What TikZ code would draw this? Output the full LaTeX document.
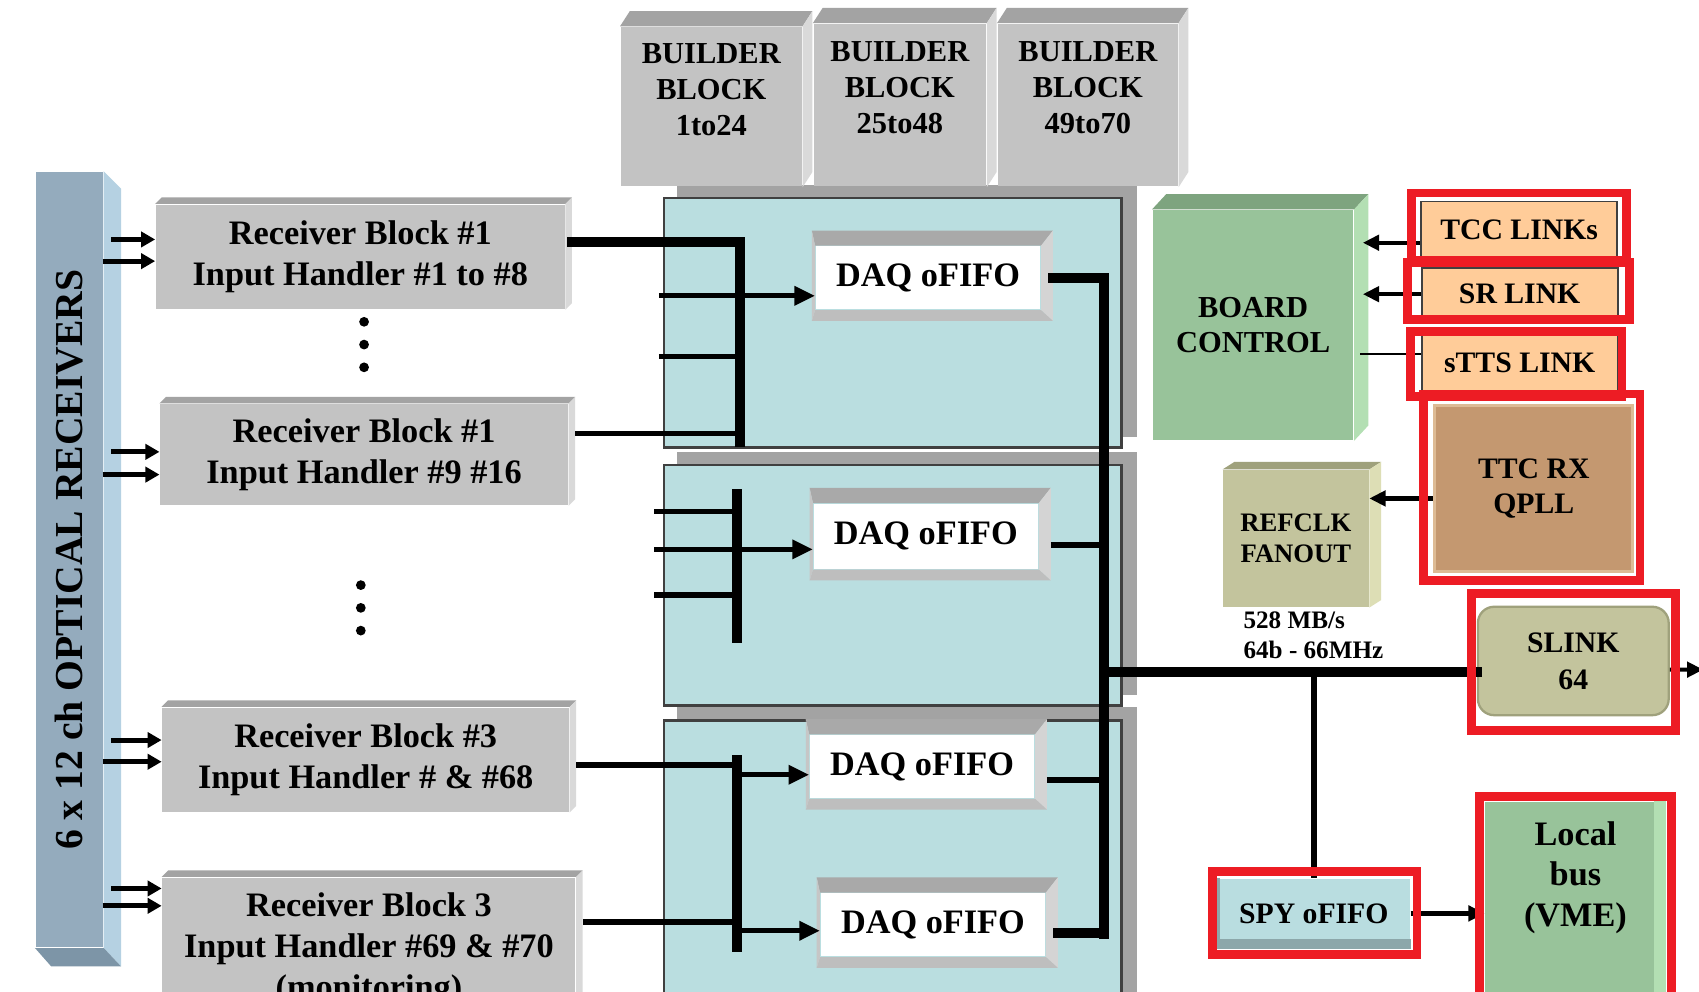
\documentclass[tikz,border=0pt]{standalone}
\usepackage{fontspec}
\setmainfont{Liberation Serif}
\usetikzlibrary{arrows.meta,backgrounds}
\definecolor{RxGray}{HTML}{C3C3C3}
\definecolor{RxTop}{HTML}{A3A3A3}
\definecolor{RxSide}{HTML}{D9D9D9}
\definecolor{OptFront}{HTML}{94ABBD}
\definecolor{OptSide}{HTML}{B5D1E2}
\definecolor{OptBottom}{HTML}{7D95A7}
\definecolor{PanelTeal}{HTML}{BADEE0}
\definecolor{PanelShade}{HTML}{A3A3A3}
\definecolor{BevTop}{HTML}{A9A9A9}
\definecolor{BevSide}{HTML}{D4D4D4}
\definecolor{BevBottom}{HTML}{BEBEBE}
\definecolor{BevLeft}{HTML}{C6C6C6}
\definecolor{CtrlGreen}{HTML}{98C39A}
\definecolor{CtrlTop}{HTML}{7EA47F}
\definecolor{CtrlSide}{HTML}{B3DFB3}
\definecolor{LinkPeach}{HTML}{FFCC99}
\definecolor{TtcTan}{HTML}{C49870}
\definecolor{TtcEdge}{HTML}{DDBB95}
\definecolor{Olive}{HTML}{C3C49D}
\definecolor{OliveTop}{HTML}{9FA17C}
\definecolor{OliveSide}{HTML}{DDDEB5}
\definecolor{SpyTeal}{HTML}{B9DDE0}
\definecolor{SpyEdge}{HTML}{8CA7AA}
\definecolor{HiRed}{HTML}{ED1C24}

% top and right faces of a raised box
\newcommand{\boxfaces}[5]{%
  \fill[#4] (#1.north west) -- ++(#2,-#3) -- ([shift={(#2,-#3)}]#1.north east) -- (#1.north east) -- cycle;
  \fill[#5] (#1.north east) -- ([shift={(#2,-#3)}]#1.north east) -- ([shift={(#2,-#3)}]#1.south east) -- (#1.south east) -- cycle;
}
% bevel frame round a fifo
\newcommand{\fifobevel}[1]{%
  \fill[BevTop] ([shift={(-3,-14)}]#1.north west) -- ([shift={(11,-14)}]#1.north east) -- (#1.north east) -- (#1.north west) -- cycle;
  \fill[BevSide] (#1.north east) -- ([shift={(11,-14)}]#1.north east) -- ([shift={(11,10)}]#1.south east) -- (#1.south east) -- cycle;
  \fill[BevBottom] (#1.south west) -- (#1.south east) -- ([shift={(11,10)}]#1.south east) -- ([shift={(-3,10)}]#1.south west) -- cycle;
  \fill[BevLeft] (#1.north west) -- ([shift={(-3,-14)}]#1.north west) -- ([shift={(-3,10)}]#1.south west) -- (#1.south west) -- cycle;
}

\begin{document}
\begin{tikzpicture}[x=0.01cm, y=-0.01cm,
    rxblock/.style={fill=RxGray, inner sep=0pt, align=center, font=\fontsize{9}{10.7}\selectfont\bfseries},
    builder/.style={fill=RxGray, inner sep=0pt, minimum height=1.5cm},
    bbtext/.style={align=center, yshift=0.16cm, font=\fontsize{8}{9.4}\selectfont\bfseries},
    panel/.style={fill=PanelTeal, draw=black!75, line width=0.6pt, minimum width=4.22cm, inner sep=0pt},
    fifo/.style={fill=white, minimum width=2.07cm, minimum height=0.58cm, inner sep=0pt, font=\fontsize{9}{10.7}\selectfont\bfseries},
    smalltext/.style={align=center, inner sep=0pt, font=\fontsize{7.8}{9.4}\selectfont\bfseries},
    linkbox/.style={smalltext, fill=LinkPeach, draw=black!75, line width=0.5pt, minimum width=1.81cm},
    hilite/.style={draw=HiRed, line width=2.3pt},
    bus/.style={line width=2.6pt, line cap=rect},
    wire/.style={line width=1.4pt},
    feed/.style={line width=1.3pt, -{Triangle[length=0.13cm,width=0.14cm]}},
    tofifo/.style={line width=1.4pt, -{Triangle[length=0.19cm,width=0.17cm]}},
    toctrl/.style={line width=1.1pt, -{Triangle[length=0.15cm,width=0.14cm]}}]
  \useasboundingbox (0,0) rectangle (1568,915);
  \clip (0,0) rectangle (1568,915);

  % builder blocks
  \node[builder, minimum width=1.67cm, minimum height=1.47cm, label={[bbtext]center:BUILDER\\BLOCK\\1to24}] (bb1) at (656.5,98.5) {};
  \node[builder, minimum width=1.59cm, label={[bbtext]center:BUILDER\\BLOCK\\25to48}] (bb2) at (830.5,97) {};
  \node[builder, minimum width=1.66cm, label={[bbtext]center:BUILDER\\BLOCK\\49to70}] (bb3) at (1004,97) {};
  \foreach \b in {bb1,bb2,bb3} {\boxfaces{\b}{9}{14}{RxTop}{RxSide}}

  % optical receivers
  \node[fill=OptFront, rotate=90, minimum width=7.15cm, minimum height=0.62cm, inner sep=0pt, font=\fontsize{10.4}{12}\selectfont\bfseries] (optrx) at (64,516.5) {6 x 12 ch OPTICAL RECEIVERS};
  \fill[OptSide] (optrx.south east) -- ++(16,16) -- ([shift={(16,17)}]optrx.south west) -- (optrx.south west) -- cycle;
  \fill[OptBottom] (optrx.north west) -- (optrx.south west) -- ++(16,17) -- ([shift={(15,17)}]optrx.north west) -- cycle;

  % receiver blocks
  \node[rxblock, minimum width=3.77cm, minimum height=0.96cm] (RB1) at (332.5,237) {Receiver Block \#1\\Input Handler \#1 to \#8};
  \node[rxblock, minimum width=3.76cm, minimum height=0.93cm] (RB2) at (336,419.5) {Receiver Block \#1\\Input Handler \#9 \#16};
  \node[rxblock, minimum width=3.75cm, minimum height=0.96cm] (RB3) at (337.5,701) {Receiver Block \#3\\Input Handler \# \& \#68};
  \node[rxblock, minimum width=3.81cm, minimum height=1.32cm] (RB4) at (340.5,876) {Receiver Block 3\\Input Handler \#69 \& \#70\\(monitoring)};
  \foreach \r in {RB1,RB2,RB3,RB4} {\boxfaces{\r}{6}{6}{RxTop}{RxSide}}
  \foreach \y in {297,318,339} {\fill (336,\y) circle (0.045cm); \fill (333,\y+243) circle (0.045cm);}

  \foreach \r/\ya/\yb in {RB1/0.16/-0.04, RB2/0.025/-0.185, RB3/0.18/-0.02, RB4/0.56/0.40} {
    \draw[feed] ([xshift=0.07cm,yshift=\ya cm]optrx.south |- \r.west) -- ([yshift=\ya cm]\r.west);
    \draw[feed] ([xshift=-0.01cm,yshift=\yb cm]optrx.south |- \r.west) -- ([yshift=\yb cm]\r.west);
  }

  % DAQ panels
  \node[panel, minimum height=2.30cm] (panA) at (824,298) {};
  \node[panel, minimum height=2.22cm] (panB) at (824,540) {};
  \node[panel, minimum height=2.95cm] (panC) at (824,812.5) {};
  \begin{scope}[on background layer]
    \fill[white] (0,0) rectangle (1568,915);
    \foreach \p in {panA,panB,panC}
      \fill[PanelShade] ([shift={(13,-11)}]\p.south west) rectangle ([shift={(13,-11)}]\p.north east);
  \end{scope}

  \node[fifo] (DAQ1) at (856.5,256.5) {DAQ oFIFO};
  \node[fifo, minimum height=0.60cm] (DAQ2) at (854.5,495) {DAQ oFIFO};
  \node[fifo] (DAQ3) at (851,707.5) {DAQ oFIFO};
  \node[fifo] (DAQ4) at (861,853.5) {DAQ oFIFO};
  \foreach \f in {DAQ1,DAQ2,DAQ3,DAQ4} {\fifobevel{\f}}

  % input side of panel A
  \coordinate (aBot) at (683,408);
  \coordinate (aIn1) at (608,273);
  \coordinate (aIn2) at (608,329);
  \draw[bus, shorten <=0.06cm] ([yshift=0.14cm]RB1.east) -| (aBot);
  \draw[wire] (aIn1) -- (aIn1 -| aBot);
  \draw[wire] (aIn2) -- (aIn2 -| aBot);
  \draw[wire, shorten <=0.06cm] ([yshift=0.195cm]RB2.east) -- ([yshift=0.195cm]RB2.east -| aBot);
  \draw[tofifo] (aIn1 -| aBot) -- (aIn1 -| DAQ1.west);

  % input side of panel B
  \coordinate (bTop) at (680,456);
  \coordinate (bBot) at (680,589);
  \foreach \n/\y in {1/472,2/507,3/549} {\coordinate (bIn\n) at (604,\y);}
  \draw[bus] (bTop) -- (bBot);
  \foreach \n in {1,2,3} {\draw[wire] (bIn\n) -- (bIn\n -| bTop);}
  \draw[tofifo] (bIn2 -| bTop) -- (bIn2 -| DAQ2.west);

  % input side of panel C
  \coordinate (cTop) at (680,701);
  \coordinate (cBot) at (680,874);
  \draw[bus] (cTop) -- (cBot);
  \draw[wire, shorten <=0.06cm] ([yshift=-0.05cm]RB3.east) -- ([yshift=-0.05cm]RB3.east -| cTop);
  \draw[wire, shorten <=0.06cm] ([yshift=0.25cm]RB4.east) -- ([yshift=0.25cm]RB4.east -| cTop);
  \draw[tofifo] ([yshift=-0.075cm]DAQ3.west -| cTop) -- ([yshift=-0.075cm]DAQ3.west);
  \draw[tofifo] ([yshift=-0.055cm]DAQ4.west -| cTop) -- ([yshift=-0.055cm]DAQ4.west);

  % output bus
  \coordinate (rTop) at (1019,254);
  \coordinate (rBot) at (1019,862);
  \coordinate (rMid) at (1019,620);
  \draw[bus, shorten <=0.11cm] (DAQ1.east) -| (rBot);
  \draw[wire, shorten <=0.11cm] ([yshift=-0.08cm]DAQ2.east) -- ([yshift=-0.08cm]DAQ2.east -| rTop);
  \draw[wire, shorten <=0.11cm] ([yshift=-0.125cm]DAQ3.east) -- ([yshift=-0.125cm]DAQ3.east -| rTop);
  \draw[bus, shorten <=0.11cm] ([yshift=-0.075cm]DAQ4.east) -- ([yshift=-0.075cm]DAQ4.east -| rTop);

  % control side
  \node[smalltext, fill=CtrlGreen, minimum width=1.85cm, minimum height=2.12cm, font=\fontsize{8}{9.4}\selectfont\bfseries] (BC) at (1156.5,300) {BOARD\\CONTROL};
  \boxfaces{BC}{13}{14}{CtrlTop}{CtrlSide}
  \node[linkbox, minimum height=0.52cm] (TCC) at (1402,212) {TCC LINKs};
  \node[linkbox, minimum height=0.49cm] (SR) at (1402.5,271.5) {SR LINK};
  \node[linkbox, minimum height=0.55cm] (STTS) at (1402.5,334.5) {sTTS LINK};
  \node[smalltext, fill=TtcTan, draw=TtcEdge, line width=0.8pt, minimum width=1.83cm, minimum height=1.53cm, font=\fontsize{7.8}{9.1}\selectfont\bfseries] (TTC) at (1415.5,451) {TTC RX\\QPLL};
  \node[smalltext, fill=Olive, minimum width=1.34cm, minimum height=1.26cm, font=\fontsize{7}{8}\selectfont\bfseries] (REF) at (1196,497) {REFCLK\\FANOUT};
  \boxfaces{REF}{11}{7}{OliveTop}{OliveSide}
  \node[align=left, anchor=west, inner sep=0pt, font=\fontsize{6.6}{7.9}\selectfont\bfseries] (rate) at (1147,586) {528 MB/s\\64b - 66MHz};
  \node[smalltext, fill=Olive, draw=OliveTop, line width=0.6pt, rounded corners=0.15cm, minimum width=1.76cm, minimum height=1.0cm, font=\fontsize{7.8}{9.7}\selectfont\bfseries] (SLINK) at (1452,610) {SLINK\\64};
  \node[smalltext, fill=SpyTeal, minimum width=1.77cm, minimum height=0.64cm] (SPY) at (1212.5,843) {SPY oFIFO};
  \fill[SpyEdge] ([yshift=0.09cm]SPY.south west) rectangle (SPY.south east);
  \fill[SpyEdge] (SPY.north west) rectangle ([xshift=0.03cm]SPY.south west);
  \node[fill=CtrlGreen, minimum width=1.66cm, minimum height=2.2cm, inner sep=0pt, label={[align=center, yshift=0.4cm, font=\fontsize{9}{10.7}\selectfont\bfseries]center:Local\\bus\\(VME)}] (Local) at (1454,850) {};
  \fill[CtrlSide] ([xshift=-0.11cm]Local.north east) rectangle (Local.south east);

  \draw[toctrl] ([yshift=-0.12cm]TCC.west) -- ([xshift=0.08cm,yshift=-0.12cm]TCC.west -| BC.east);
  \draw[toctrl] (SR.west) -- ([xshift=0.08cm]SR.west -| BC.east);
  \draw[line width=0.6pt] ([yshift=0.08cm]STTS.west) -- ([xshift=0.05cm,yshift=0.08cm]STTS.west -| BC.east);
  \draw[toctrl] ([yshift=-0.09cm]TTC.west) -- ([yshift=-0.09cm]TTC.west -| REF.east);
  \draw[bus] (rMid) -- (rMid -| SLINK.west);
  \draw[line width=1.7pt] (SPY.north |- rMid) -- (SPY.north);
  \draw[toctrl, line width=1.4pt] (SPY.east) -- (SPY.east -| Local.west);
  \coordinate (slOut) at (1572,618);
  \draw[toctrl] ([yshift=-0.08cm]SLINK.east) -- (slOut);

  % highlighted items
  \draw[hilite] ([shift={(-8,-7)}]TCC.north west) rectangle ([shift={(8,1)}]TCC.south east);
  \draw[hilite] ([shift={(-12,-4)}]SR.north west) rectangle ([shift={(10,-2)}]SR.south east);
  \draw[hilite] ([shift={(-9,0)}]STTS.north west) rectangle ([shift={(3,3)}]STTS.south east);
  \draw[hilite] ([shift={(-9,-9.5)}]TTC.north west) rectangle ([shift={(5,6.5)}]TTC.south east);
  \draw[hilite] ([shift={(-5,-11)}]SLINK.north west) rectangle ([shift={(5,13)}]SLINK.south east);
  \draw[hilite] ([shift={(-4,-6)}]SPY.north west) rectangle ([shift={(6,5)}]SPY.south east);
  \draw[hilite] ([shift={(-5,-4)}]Local.north west) rectangle ([shift={(5,0)}]Local.south east);
\end{tikzpicture}
\end{document}
